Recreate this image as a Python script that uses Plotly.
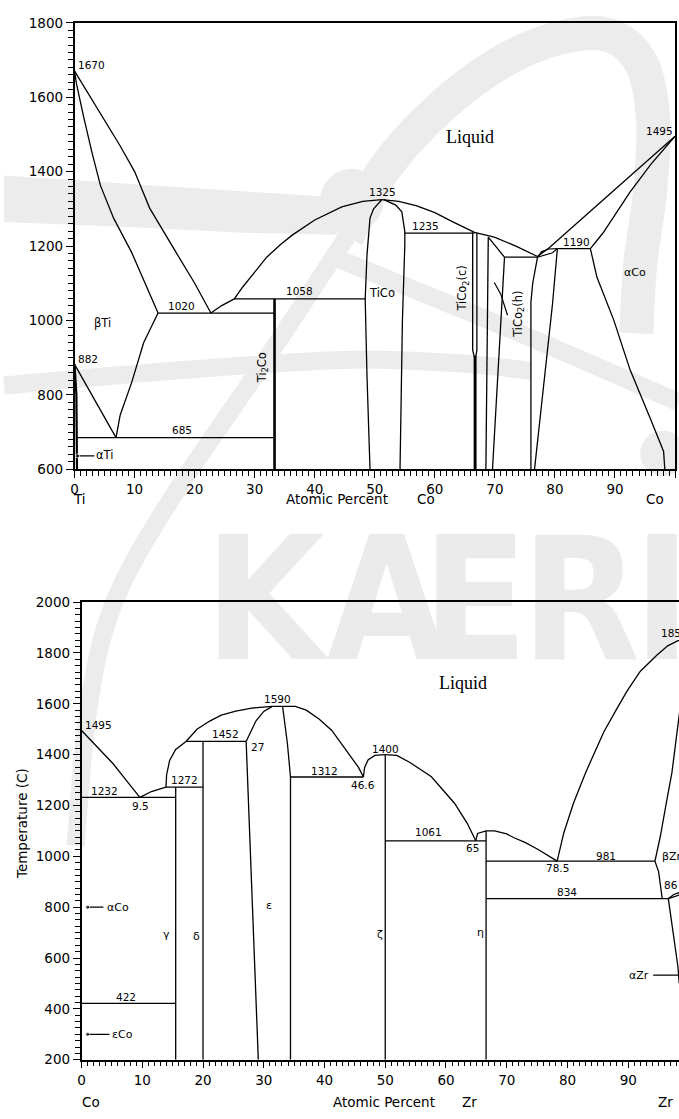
import plotly.graph_objects as go

W, H = 679, 1119

# ================= Ti-Co (top panel) data =================
tc_liq1_x = [0, 4, 7.6, 10, 12.5, 16.9, 20, 22.7]
tc_liq1_y = [1670, 1565, 1469, 1400, 1302, 1183, 1100, 1020]
tc_sol_bti_x = [0, 0.3, 1.5, 2.9, 4.3, 6.5, 9.5, 11.5, 13.9]
tc_sol_bti_y = [1670, 1637, 1548, 1451, 1363, 1275, 1183, 1110, 1020]
tc_trans_x = [13.9, 11.5, 9.5, 7.6, 6.9]
tc_trans_y = [1020, 940, 833, 746, 685]
tc_a882_x = [0, 6.9]
tc_a882_y = [882, 685]
tc_asolv_x = [0.4, 0.4, 0.3, 0]
tc_asolv_y = [600, 685, 800, 882]
tc_iso685_x = [0.4, 33.3]
tc_iso685_y = [685, 685]
tc_iso1020_x = [13.9, 33.3]
tc_iso1020_y = [1020, 1020]
tc_ti2co_x = [33.3, 33.3]
tc_ti2co_y = [600, 1058]
tc_iso1058_x = [26.6, 48.4]
tc_iso1058_y = [1058, 1058]
tc_liq2_x = [22.7, 24.5, 26.6, 28, 30, 32, 34.3, 36.3, 40, 44.5, 48, 51.2]
tc_liq2_y = [1020, 1040, 1058, 1090, 1130, 1170, 1204, 1230, 1270, 1305, 1320, 1325]
tc_ticoL_x = [51.2, 49.8, 49.2, 48.7, 48.4, 48.7, 49.2]
tc_ticoL_y = [1325, 1300, 1275, 1177, 1058, 850, 600]
tc_ticoR_x = [51.5, 53.5, 54.5, 55, 55, 54.6, 54.2]
tc_ticoR_y = [1325, 1310, 1292, 1239, 1204, 1000, 600]
tc_iso1235_x = [55, 66.6]
tc_iso1235_y = [1235, 1235]
tc_liq3_x = [51.2, 54, 57, 60, 63, 66.6, 69.9, 73.5, 77.1]
tc_liq3_y = [1325, 1320, 1308, 1290, 1265, 1237, 1224, 1200, 1172]
tc_c2cL_x = [66.3, 66.3, 66.6, 66.6]
tc_c2cL_y = [1237, 920, 900, 600]
tc_c2cR_x = [67.0, 67.0, 66.8, 66.8]
tc_c2cR_y = [1235, 920, 900, 600]
tc_c2cT_x = [66.7, 66.7]
tc_c2cT_y = [600, 905]
tc_c2hA_x = [68.9, 68.5]
tc_c2hA_y = [1224, 600]
tc_c2hB_x = [68.9, 71.6, 69.6]
tc_c2hB_y = [1224, 1170, 600]
tc_iso1170_x = [71.6, 77.1]
tc_iso1170_y = [1170, 1170]
tc_c3A_x = [77.1, 76.3, 76.0, 76.0]
tc_c3A_y = [1170, 1100, 1050, 600]
tc_c3B_x = [80.4, 79.6, 76.6]
tc_c3B_y = [1192, 1045, 600]
tc_lensU_x = [77.1, 77.8, 79, 80.4]
tc_lensU_y = [1170, 1185, 1192, 1193]
tc_lensL_x = [77.1, 78.5, 79.6, 80.4]
tc_lensL_y = [1170, 1176, 1182, 1193]
tc_iso1190_x = [80.4, 85.9]
tc_iso1190_y = [1193, 1193]
tc_liq4_x = [77.1, 79, 89.8, 100]
tc_liq4_y = [1172, 1195, 1349, 1495]
tc_sol_aco_x = [85.9, 88, 92.5, 96, 100]
tc_sol_aco_y = [1193, 1235, 1345, 1420, 1495]
tc_solv_aco_x = [85.9, 87.0, 89.8, 92.5, 95.9, 98.1, 98.3]
tc_solv_aco_y = [1193, 1116, 1001, 868, 736, 648, 600]
tc_lead_x = [69.9, 71.0, 72.1]
tc_lead_y = [1102, 1070, 1014]

# ================= Co-Zr (bottom panel) data =================
cz_liq1_x = [0, 2.5, 5.2, 7.5, 9.6]
cz_liq1_y = [1495, 1430, 1364, 1295, 1232]
cz_iso1232_x = [0, 15.5]
cz_iso1232_y = [1232, 1232]
cz_liq2_x = [9.6, 11.5, 13.9]
cz_liq2_y = [1232, 1255, 1272]
cz_iso1272_x = [13.9, 20]
cz_iso1272_y = [1272, 1272]
cz_gam_x = [15.5, 15.5]
cz_gam_y = [200, 1272]
cz_del_x = [20, 20]
cz_del_y = [200, 1452]
cz_liq3_x = [13.9, 14.0, 14.5, 15.5, 17.2, 19, 21.1, 23, 25.4, 28, 31.4]
cz_liq3_y = [1272, 1320, 1377, 1420, 1452, 1500, 1532, 1555, 1571, 1583, 1590]
cz_iso1452_x = [17.2, 27.1]
cz_iso1452_y = [1452, 1452]
cz_epsLu_x = [27.1, 28.7, 30, 31.4]
cz_epsLu_y = [1452, 1532, 1570, 1590]
cz_epsLl_x = [27.1, 27.5, 27.9, 28.4, 29.1]
cz_epsLl_y = [1452, 1200, 925, 600, 200]
cz_epsR_x = [33.1, 33.9, 34.4, 34.4]
cz_epsR_y = [1590, 1442, 1312, 200]
cz_top1590_x = [31.4, 33.1]
cz_top1590_y = [1590, 1590]
cz_liq4_x = [33.1, 35.2, 37, 39.1, 41.2, 43.5, 45.6, 46.4]
cz_liq4_y = [1590, 1590, 1575, 1540, 1495, 1420, 1350, 1312]
cz_iso1312_x = [34.4, 46.4]
cz_iso1312_y = [1312, 1312]
cz_liq5_x = [46.4, 46.6, 47.2, 48.3, 50]
cz_liq5_y = [1312, 1350, 1380, 1397, 1400]
cz_zeta_x = [50, 50]
cz_zeta_y = [200, 1400]
cz_liq6_x = [50, 51.9, 54, 57.6, 61.4, 63.5, 64.9]
cz_liq6_y = [1400, 1397, 1370, 1313, 1209, 1130, 1061]
cz_iso1061_x = [50, 66.6]
cz_iso1061_y = [1061, 1061]
cz_liq7_x = [64.9, 65.2, 66.6, 68, 70, 71.2, 73, 75.1, 78.3]
cz_liq7_y = [1061, 1090, 1100, 1100, 1088, 1073, 1055, 1028, 981]
cz_eta_x = [66.6, 66.6]
cz_eta_y = [200, 1100]
cz_iso981_x = [66.6, 94.4]
cz_iso981_y = [981, 981]
cz_liq8_x = [78.3, 79.4, 81, 83, 84.5, 86, 88, 89.8, 92, 94.7, 96.5, 98.2, 100]
cz_liq8_y = [981, 1093, 1210, 1330, 1410, 1490, 1575, 1650, 1728, 1791, 1828, 1848, 1855]
cz_solbz_x = [94.4, 95.3, 96.2, 97.2, 98.2, 99.2, 100]
cz_solbz_y = [981, 1080, 1200, 1330, 1519, 1700, 1855]
cz_bzlow_x = [94.4, 95.0, 95.6]
cz_bzlow_y = [981, 940, 834]
cz_iso834_x = [66.6, 96.6]
cz_iso834_y = [834, 834]
cz_lensA_x = [96.6, 97.5, 98.4]
cz_lensA_y = [834, 850, 857]
cz_lensB_x = [96.6, 97.5, 98.4]
cz_lensB_y = [834, 842, 848]
cz_azr_x = [96.6, 97.4, 98.2, 98.4]
cz_azr_y = [834, 700, 563, 500]
cz_iso422_x = [0, 15.5]
cz_iso422_y = [422, 422]
cz_azr_ptr_x = [94.1, 98.2]
cz_azr_ptr_y = [533, 533]

# pure-element markers
tc_ati_x = [0.5, 3.3]
tc_ati_y = [636, 636]
cz_aco_x = [1.0, 3.6]
cz_aco_y = [800, 800]
cz_eco_x = [1.0, 4.6]
cz_eco_y = [300, 300]

# axis ranges and ticks
top_xrange = [0, 100]
top_yrange = [600, 1800]
bot_xrange = [0, 98.36]
bot_yrange = [200, 2000]
top_xticks = list(range(0, 101, 10))
top_yticks = list(range(600, 1801, 200))
bot_xticks = list(range(0, 101, 10))
bot_yticks = list(range(200, 2001, 200))
top_xminor_step, top_yminor_step = 1, 20
bot_xminor_step, bot_yminor_step = 1, 25

TOP_PX = dict(x0=71, x1=675, y0=15, y1=468)
BOT_PX = dict(x0=78, x1=679, y0=602.7, y1=1067)

fig = go.Figure()

def add_line(xs, ys, ax, width=1.3, marker_first=False):
    xa, ya = ax
    kw = {}
    if marker_first:
        mode = "lines+markers"
        kw["marker"] = dict(size=[4] + [0] * (len(xs) - 1), color="black")
    else:
        mode = "lines"
    fig.add_trace(go.Scatter(x=xs, y=ys, mode=mode, xaxis=xa, yaxis=ya,
                             line=dict(color="black", width=width),
                             hoverinfo="skip", showlegend=False, **kw))

TOP = ("x", "y")
BOT = ("x2", "y2")

top_lines = [
    (tc_liq1_x, tc_liq1_y, 1.3), (tc_sol_bti_x, tc_sol_bti_y, 1.3),
    (tc_trans_x, tc_trans_y, 1.3), (tc_a882_x, tc_a882_y, 1.3),
    (tc_asolv_x, tc_asolv_y, 2.2), (tc_iso685_x, tc_iso685_y, 1.3),
    (tc_iso1020_x, tc_iso1020_y, 1.3), (tc_ti2co_x, tc_ti2co_y, 2.6),
    (tc_iso1058_x, tc_iso1058_y, 1.3), (tc_liq2_x, tc_liq2_y, 1.3),
    (tc_ticoL_x, tc_ticoL_y, 1.3), (tc_ticoR_x, tc_ticoR_y, 1.3),
    (tc_iso1235_x, tc_iso1235_y, 1.3), (tc_liq3_x, tc_liq3_y, 1.3),
    (tc_c2cL_x, tc_c2cL_y, 1.3), (tc_c2cR_x, tc_c2cR_y, 1.3),
    (tc_c2cT_x, tc_c2cT_y, 2.6), (tc_c2hA_x, tc_c2hA_y, 1.3),
    (tc_c2hB_x, tc_c2hB_y, 1.3), (tc_iso1170_x, tc_iso1170_y, 1.3),
    (tc_c3A_x, tc_c3A_y, 1.3), (tc_c3B_x, tc_c3B_y, 1.3),
    (tc_lensU_x, tc_lensU_y, 1.2), (tc_lensL_x, tc_lensL_y, 1.2),
    (tc_iso1190_x, tc_iso1190_y, 1.3), (tc_liq4_x, tc_liq4_y, 1.3),
    (tc_sol_aco_x, tc_sol_aco_y, 1.3), (tc_solv_aco_x, tc_solv_aco_y, 1.3),
    (tc_lead_x, tc_lead_y, 1.2),
]
for xs, ys, w in top_lines:
    add_line(xs, ys, TOP, w)
add_line(tc_ati_x, tc_ati_y, TOP, 1.2, marker_first=True)

bot_lines = [
    cz_liq1_x, cz_liq1_y, cz_iso1232_x, cz_iso1232_y, cz_liq2_x, cz_liq2_y,
    cz_iso1272_x, cz_iso1272_y, cz_gam_x, cz_gam_y, cz_del_x, cz_del_y,
    cz_liq3_x, cz_liq3_y, cz_iso1452_x, cz_iso1452_y, cz_epsLu_x, cz_epsLu_y,
    cz_epsLl_x, cz_epsLl_y, cz_epsR_x, cz_epsR_y, cz_top1590_x, cz_top1590_y,
    cz_liq4_x, cz_liq4_y, cz_iso1312_x, cz_iso1312_y, cz_liq5_x, cz_liq5_y,
    cz_zeta_x, cz_zeta_y, cz_liq6_x, cz_liq6_y, cz_iso1061_x, cz_iso1061_y,
    cz_liq7_x, cz_liq7_y, cz_eta_x, cz_eta_y, cz_iso981_x, cz_iso981_y,
    cz_liq8_x, cz_liq8_y, cz_solbz_x, cz_solbz_y, cz_bzlow_x, cz_bzlow_y,
    cz_iso834_x, cz_iso834_y, cz_lensA_x, cz_lensA_y, cz_lensB_x, cz_lensB_y,
    cz_azr_x, cz_azr_y, cz_iso422_x, cz_iso422_y, cz_azr_ptr_x, cz_azr_ptr_y,
]
for i in range(0, len(bot_lines), 2):
    add_line(bot_lines[i], bot_lines[i + 1], BOT, 1.3)
add_line(cz_aco_x, cz_aco_y, BOT, 1.2, marker_first=True)
add_line(cz_eco_x, cz_eco_y, BOT, 1.2, marker_first=True)

# ---------------- annotations ----------------
NUM = dict(family="DejaVu Sans", size=10.5, color="black")
LBL = dict(family="DejaVu Sans", size=11.5, color="black")
GREEK = dict(family="DejaVu Sans", size=11, color="black")
ann = []

def txt(x, y, s, ax, xanchor="center", font=None, angle=0):
    xa, ya = ax
    ann.append(dict(x=x, y=y, xref=xa, yref=ya, text=s, showarrow=False,
                    xanchor=xanchor, yanchor="middle", textangle=angle,
                    font=font or NUM))

txt(0.3, 1686, "1670", TOP, "left")
txt(0.2, 897, "882", TOP, "left")
txt(4.7, 992, "βTi", TOP, font=LBL)
txt(17.8, 1040, "1020", TOP)
txt(17.9, 706, "685", TOP)
txt(3.3, 639, "αTi", TOP, "left", font=LBL)
txt(31.3, 873, "Ti<sub>2</sub>Co", TOP, font=LBL, angle=-90)
txt(37.5, 1078, "1058", TOP)
txt(48.7, 1073, "TiCo", TOP, "left", font=LBL)
txt(51.3, 1346, "1325", TOP)
txt(58.4, 1255, "1235", TOP)
txt(65.9, 1493, "Liquid", TOP, font=dict(family="Liberation Serif", size=18, color="black"))
txt(97.4, 1510, "1495", TOP)
txt(83.6, 1211, "1190", TOP)
txt(64.6, 1087, "TiCo<sub>2</sub>(c)", TOP, font=LBL, angle=-90)
txt(73.8, 1017, "TiCo<sub>2</sub>(h)", TOP, font=LBL, angle=-90)
txt(93.4, 1129, "αCo", TOP, font=GREEK)

txt(0.3, 1515, "1495", BOT, "left")
txt(3.7, 1256, "1232", BOT)
txt(9.7, 1199, "9.5", BOT)
txt(17.0, 1300, "1272", BOT)
txt(23.7, 1480, "1452", BOT)
txt(29.0, 1429, "27", BOT)
txt(32.2, 1620, "1590", BOT)
txt(40.0, 1334, "1312", BOT)
txt(46.3, 1280, "46.6", BOT)
txt(50.0, 1423, "1400", BOT)
txt(62.8, 1681, "Liquid", BOT, font=dict(family="Liberation Serif", size=18, color="black"))
txt(57.2, 1094, "1061", BOT)
txt(64.3, 1032, "65", BOT)
txt(78.3, 953, "78.5", BOT)
txt(86.3, 1003, "981", BOT)
txt(80.0, 861, "834", BOT)
txt(95.1, 1880, "1855", BOT, "left")
txt(95.3, 1000, "βZr", BOT, "left", font=GREEK)
txt(95.5, 887, "86", BOT, "left")
txt(93.8, 533, "αZr", BOT, "right", font=GREEK)
txt(7.4, 448, "422", BOT)
txt(3.9, 800, "αCo", BOT, "left", font=GREEK)
txt(4.7, 300, "εCo", BOT, "left", font=GREEK)
txt(14.0, 692, "γ", BOT, font=GREEK)
txt(18.9, 686, "δ", BOT, font=GREEK)
txt(30.8, 805, "ε", BOT, font=GREEK)
txt(49.1, 692, "ζ", BOT, font=GREEK)
txt(65.6, 699, "η", BOT, font=GREEK)

AX = dict(family="DejaVu Sans", size=13.5, color="black")
def ptxt(px, py, s, angle=0):
    ann.append(dict(x=px / W, y=1 - py / H, xref="paper", yref="paper", text=s,
                    showarrow=False, xanchor="center", yanchor="middle",
                    textangle=angle, font=AX))

ptxt(76, 498, "Ti")
ptxt(335, 498, "Atomic Percent")
ptxt(425, 498, "Co")
ptxt(655, 498, "Co")
ptxt(88, 1110, "Co")
ptxt(382, 1110, "Atomic Percent")
ptxt(468, 1110, "Zr")
ptxt(665, 1110, "Zr")
ptxt(18, 827, "Temperature (C)", angle=-90)

# ---------------- background watermark (decoration, page pixels) ----------------
WM = "#ececec"

def P(x, y):
    return f"{x / W:.5f},{1 - y / H:.5f}"

def smooth_path(pts):
    d = "M " + P(*pts[0])
    for i in range(len(pts) - 1):
        p0 = pts[i - 1] if i > 0 else pts[i]
        p1, p2 = pts[i], pts[i + 1]
        p3 = pts[i + 2] if i + 2 < len(pts) else p2
        c1 = (p1[0] + (p2[0] - p0[0]) / 6, p1[1] + (p2[1] - p0[1]) / 6)
        c2 = (p2[0] - (p3[0] - p1[0]) / 6, p2[1] - (p3[1] - p1[1]) / 6)
        d += " C " + P(*c1) + " " + P(*c2) + " " + P(*p2)
    return d

shapes = []
def stroke(pts, width):
    shapes.append(dict(type="path", xref="paper", yref="paper", path=smooth_path(pts),
                       line=dict(color=WM, width=width), layer="below"))

def disc(cx, cy, r):
    k = 0.5523 * r
    d = ("M " + P(cx + r, cy)
         + " C " + P(cx + r, cy + k) + " " + P(cx + k, cy + r) + " " + P(cx, cy + r)
         + " C " + P(cx - k, cy + r) + " " + P(cx - r, cy + k) + " " + P(cx - r, cy)
         + " C " + P(cx - r, cy - k) + " " + P(cx - k, cy - r) + " " + P(cx, cy - r)
         + " C " + P(cx + k, cy - r) + " " + P(cx + r, cy - k) + " " + P(cx + r, cy) + " Z")
    shapes.append(dict(type="path", xref="paper", yref="paper", path=d,
                       line=dict(width=0), fillcolor=WM, layer="below"))

shapes.append(dict(type="path", xref="paper", yref="paper",
                   path=smooth_path([(0, 170), (120, 178), (240, 186), (335, 192)]) +
                   " L " + P(335, 230) + " L " + P(240, 228) + " L " + P(120, 222) + " L " + P(0, 217) + " Z",
                   line=dict(width=0), fillcolor=WM, layer="below"))
disc(350, 195, 32)
stroke([(72, 850), (85, 710), (110, 605), (167, 500), (260, 362), (345, 232)], 18)
stroke([(345, 232), (385, 160), (440, 100), (500, 55), (560, 30), (610, 28),
        (642, 58), (653, 115), (650, 185), (640, 260), (636, 330)], 34)
stroke([(0, 383), (170, 368), (340, 357), (450, 360), (530, 368)], 18)
stroke([(330, 252), (500, 322), (679, 400)], 18)
disc(663, 452, 23)

wm_letters = ["K", "A", "E", "R", "I"]
wm_centers = [262, 385, 474, 580, 662]
for ch, cx in zip(wm_letters, wm_centers):
    shapes.append(dict(type="rect", xref="paper", yref="paper",
                       x0=(cx - 70) / W, x1=(cx + 70) / W,
                       y0=1 - 660 / H, y1=1 - 516 / H,
                       line=dict(width=0), fillcolor="rgba(0,0,0,0)", layer="below",
                       label=dict(text="<b>" + ch + "</b>", textposition="middle center",
                                  font=dict(family="DejaVu Sans Condensed", size=172,
                                            color="#ebebeb"))))

def axis_common(domain, rng, tickvals, minor_step, mirror=True):
    return dict(domain=domain, range=rng, tickmode="linear", tick0=tickvals[0],
                dtick=tickvals[1] - tickvals[0], ticks="outside",
                ticklen=7, tickwidth=1.3, tickcolor="black", showline=True,
                linecolor="black", linewidth=1.5, mirror=mirror, showgrid=False,
                zeroline=False, tickfont=AX,
                minor=dict(ticks="outside", tickmode="linear", tick0=tickvals[0],
                           dtick=minor_step, ticklen=4.5, tickwidth=1.3,
                           tickcolor="black", showgrid=False))

fig.update_layout(
    width=W, height=H, margin=dict(l=0, r=0, t=0, b=0),
    paper_bgcolor="white", plot_bgcolor="rgba(0,0,0,0)",
    xaxis=axis_common([TOP_PX["x0"] / W, TOP_PX["x1"] / W], top_xrange, top_xticks, top_xminor_step),
    yaxis=axis_common([1 - TOP_PX["y1"] / H, 1 - TOP_PX["y0"] / H], top_yrange, top_yticks, top_yminor_step),
    xaxis2=axis_common([BOT_PX["x0"] / W, 1.0], bot_xrange, bot_xticks, bot_xminor_step),
    yaxis2=axis_common([1 - BOT_PX["y1"] / H, 1 - BOT_PX["y0"] / H], bot_yrange, bot_yticks,
                       bot_yminor_step, mirror=False),
    annotations=ann, shapes=shapes, showlegend=False,
)
fig.update_layout(xaxis=dict(anchor="y"), yaxis=dict(anchor="x"),
                  xaxis2=dict(anchor="y2"), yaxis2=dict(anchor="x2"))

fig.write_html("out.html")
